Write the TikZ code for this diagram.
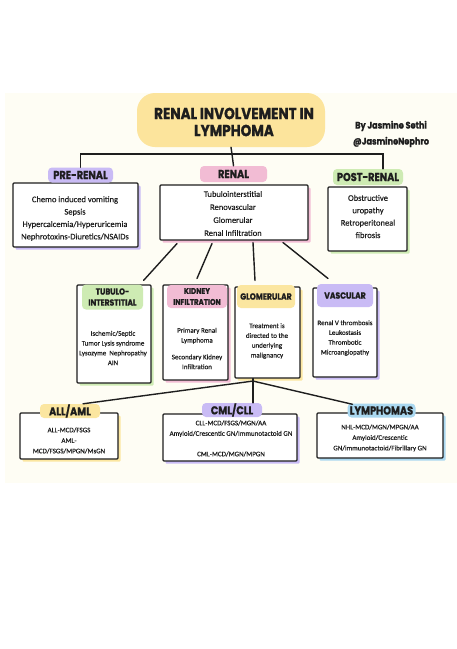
\documentclass[tikz,border=0pt]{standalone}
\usepackage{fontspec}
\setmainfont{Carlito}[UprightFeatures={FakeBold=0.35}]
\newfontfamily\headfont{Poppins}[FakeStretch=0.85, BoldFeatures={FakeBold=1.2}]
\usetikzlibrary{shadows,calc}
\definecolor{bgcream}{HTML}{FEFDF4}
\definecolor{ttlyel}{HTML}{FCE49C}
\definecolor{lav}{HTML}{C9BBF5}
\definecolor{pinkc}{HTML}{F2BCD4}
\definecolor{greenc}{HTML}{CEEBB3}
\definecolor{yelc}{HTML}{FBE6A0}
\definecolor{bluec}{HTML}{AAD8F0}
\definecolor{ink}{HTML}{1E1E1E}
\tikzset{
  boxnode/.style={draw=ink, line width=1.1pt, fill=white, inner sep=0pt, rounded corners=1pt,
    drop shadow={shadow xshift=2.5pt, shadow yshift=-2.5pt, fill=#1, opacity=1}},
  lblnode/.style={fill=#1, rounded corners=4pt, inner sep=0pt, text=ink},
  hbig/.style={font=\headfont\bfseries\fontsize{11.5}{12}\selectfont},
  hmid/.style={font=\headfont\bfseries\fontsize{8.8}{11}\selectfont},
  txtA/.style={align=center, inner sep=0pt, text=ink, font=\fontsize{8.5}{12.4}\selectfont},
  txtB/.style={align=center, inner sep=0pt, text=ink, font=\fontsize{7}{9.8}\selectfont},
  txtC/.style={align=center, inner sep=0pt, text=ink, font=\fontsize{7}{10.5}\selectfont},
  conn/.style={draw=ink, line width=1.4pt, line cap=round}
}
\begin{document}
\begin{tikzpicture}[x=1pt,y=-1pt]
\useasboundingbox (0,0) rectangle (457,649);
\fill[white] (0,0) rectangle (457,649);
\fill[bgcream] (5,93) rectangle (457,483);

% title
\node[fill=ttlyel, rounded corners=18pt, minimum width=188pt, minimum height=54pt, inner sep=0pt] (title) at (231,120) {};
\node[align=center, inner sep=0pt, text=ink, font=\headfont\bfseries\fontsize{16}{17}\selectfont] (titletxt) at (234,122) {RENAL INVOLVEMENT IN\\LYMPHOMA};
\node[align=center, inner sep=0pt, text=ink, font=\headfont\bfseries\fontsize{9.6}{16}\selectfont] (author) at (391,134) {By Jasmine Sethi\\@JasmineNephro};

% row 1 boxes
\node[boxnode=lav, minimum width=125pt, minimum height=64pt] (prebox) at (75.5,215) {};
\node[boxnode=pinkc, minimum width=148pt, minimum height=55pt] (renalbox) at (234,212.5) {};
\node[boxnode=greenc, minimum width=79pt, minimum height=64pt] (postbox) at (367.5,219) {};
\node[lblnode=lav, hbig, minimum width=65pt, minimum height=15pt] (prelbl) at (80.5,175) {PRE-RENAL};
\node[lblnode=pinkc, hbig, minimum width=67pt, minimum height=16pt] (renallbl) at (233.5,174) {RENAL};
\node[lblnode=greenc, hbig, minimum width=70pt, minimum height=16pt] (postlbl) at (368,177) {POST-RENAL};
\node[txtA] (pretxt) at (75,218.5) {Chemo induced vomiting\\Sepsis\\Hypercalcemia/Hyperuricemia\\Nephrotoxins-Diuretics/NSAIDs};
\node[txtA, font=\fontsize{8.5}{13}\selectfont] (renaltxt) at (233,213.5) {Tubulointerstitial\\Renovascular\\Glomerular\\Renal Infiltration};
\node[txtA] (posttxt) at (368,216.5) {Obstructive\\uropathy\\Retroperitoneal\\fibrosis};

% row 2 boxes
\node[boxnode=greenc, minimum width=74pt, minimum height=98pt] (tubbox) at (114,334) {};
\node[boxnode=pinkc, minimum width=65pt, minimum height=95pt] (kidbox) at (195.5,332.5) {};
\node[boxnode=yelc, minimum width=65pt, minimum height=91pt] (glombox) at (267.5,332.5) {};
\node[boxnode=lav, minimum width=64pt, minimum height=89pt] (vascbox) at (345,332.5) {};
\node[lblnode=greenc, hmid, align=center, minimum width=61pt, minimum height=25pt] (tublbl) at (112.5,297) {TUBULO-\\INTERSTITIAL};
\node[lblnode=pinkc, hmid, align=center, minimum width=60pt, minimum height=23pt, font=\headfont\bfseries\fontsize{8.3}{11}\selectfont] (kidlbl) at (197,296.5) {KIDNEY\\INFILTRATION};
\node[lblnode=yelc, font=\headfont\bfseries\fontsize{9}{11}\selectfont, minimum width=58pt, minimum height=23pt] (glomlbl) at (266,296.5) {GLOMERULAR};
\node[lblnode=lav, font=\headfont\bfseries\fontsize{9}{11}\selectfont, minimum width=56pt, minimum height=23pt] (vasclbl) at (345,295.5) {VASCULAR};
\node[txtB] (tubtxt) at (113,348) {Ischemic/Septic\\Tumor Lysis syndrome\\Lysozyme~~Nephropathy\\AIN};
\node[txtB] (kidtxt) at (197,348.5) {Primary Renal\\Lymphoma\\[7pt]Secondary Kidney\\Infiltration};
\node[txtB] (glomtxt) at (267,341) {Treatment is\\directed to the\\underlying\\malignancy};
\node[txtB] (vasctxt) at (345,338) {Renal V thrombosis\\Leukostasis\\Thrombotic\\Microangiopathy};

% row 3 boxes
\node[boxnode=yelc, minimum width=98pt, minimum height=46pt] (allbox) at (69,436) {};
\node[boxnode=lav, minimum width=134pt, minimum height=47pt] (cmlbox) at (230,437.5) {};
\node[boxnode=bluec, minimum width=126pt, minimum height=45pt] (lymbox) at (380,435.5) {};
\node[lblnode=yelc, hbig, minimum width=60pt, minimum height=14pt] (alllbl) at (70,411) {ALL/AML};
\node[lblnode=lav, hbig, minimum width=60pt, minimum height=14pt] (cmllbl) at (232,410) {CML/CLL};
\node[lblnode=bluec, hbig, minimum width=68pt, minimum height=14pt] (lymlbl) at (381.5,410.5) {LYMPHOMAS};
\node[txtC] (alltxt) at (69,440.5) {ALL-MCD/FSGS\\AML-\\MCD/FSGS/MPGN/MsGN};
\node[txtC] (cmltxt) at (231,438.5) {CLL-MCD/FSGS/MGN/AA\\Amyloid/Crescentic GN/Immunotactoid GN\\[10pt]CML-MCD/MGN/MPGN};
\node[txtC] (lymtxt) at (380,438) {NHL-MCD/MGN/MPGN/AA\\Amyloid/Crescentic\\GN/immunotactoid/Fibrillary GN};

% connectors top
\coordinate (bus) at (232,154);
\draw[conn] (title.south) -- (bus);
\draw[conn] (prelbl.north) |- (bus) -| ([xshift=15pt]postlbl.north);
\draw[conn] (bus) -- (renallbl.north);

% renal to row 2
\draw[conn] ([xshift=-57pt,yshift=-3pt]renalbox.south) -- ([xshift=-8pt,yshift=4pt]tubbox.north east);
\draw[conn] ([xshift=-22pt,yshift=-3pt]renalbox.south) -- ([xshift=1.5pt,yshift=6pt]kidbox.north);
\draw[conn] ([xshift=19pt,yshift=-2pt]renalbox.south) -- ([xshift=-12.5pt,yshift=6pt]glombox.north);
\draw[conn] ([xshift=49pt,yshift=-2pt]renalbox.south) -- ([xshift=-17pt,yshift=9pt]vascbox.north);

% glomerular to row 3
\coordinate (gj) at ([xshift=-14.5pt,yshift=-2.5pt]glombox.south);
\draw[conn] ([xshift=-14.5pt]glombox.south) -- ([xshift=21pt]cmllbl.north);
\draw[conn] (gj) -- ([xshift=13pt]alllbl.north);
\draw[conn] (gj) -- ([xshift=-29pt,yshift=-1pt]lymlbl.north);
\end{tikzpicture}
\end{document}
